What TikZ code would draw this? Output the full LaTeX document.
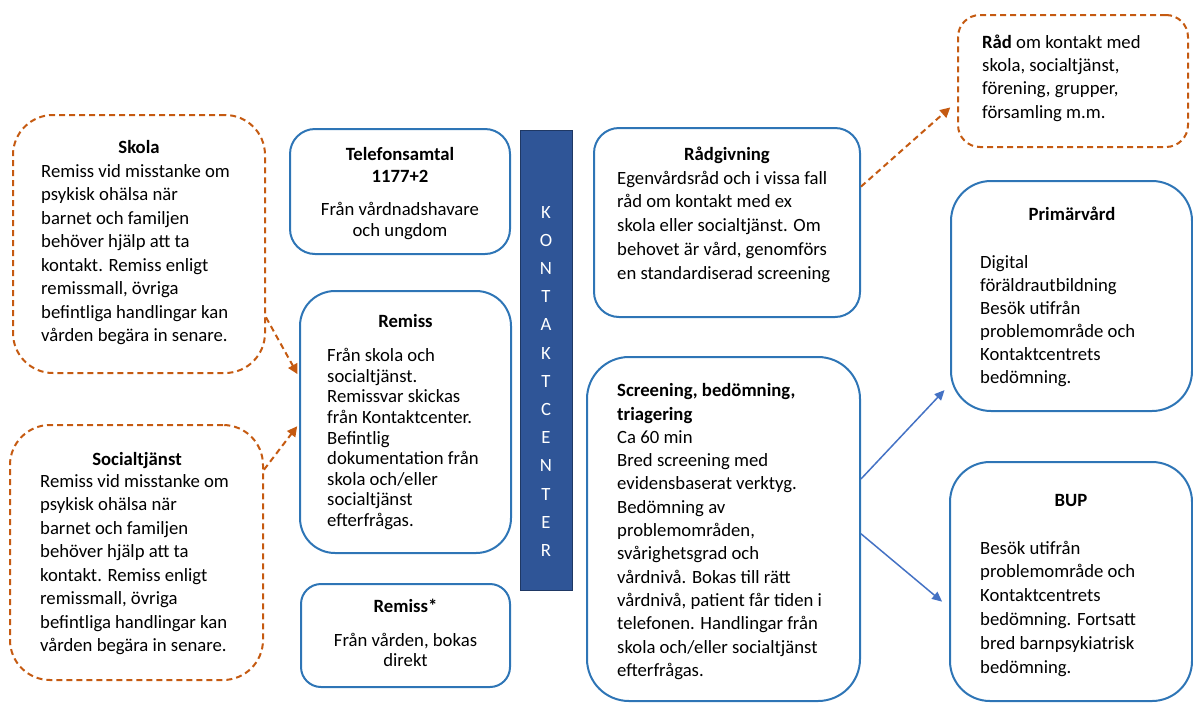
\documentclass[tikz,border=0pt]{standalone}
\usepackage{fontspec}
\setmainfont{Carlito}
\usepackage{tikz}
\usetikzlibrary{arrows.meta}
\definecolor{boxblue}{HTML}{2E75B6}
\definecolor{arrowblue}{HTML}{4472C4}
\definecolor{dashorange}{HTML}{C55A11}
\definecolor{barblue}{HTML}{2F5597}
\definecolor{bardark}{HTML}{1F3864}
\newcommand{\kcfont}{\fontsize{18.7}{23.5}\selectfont}
\newcommand{\kctight}{\fontsize{18.7}{20.6}\selectfont}
\tikzset{
  bluebox/.style={draw=boxblue, line width=2pt, rectangle, inner sep=0pt},
  orangebox/.style={draw=dashorange, line width=2pt, dash pattern=on 6pt off 4pt, rectangle, inner sep=0pt},
  head/.style={font=\kcfont\bfseries, anchor=base, inner sep=0pt, align=center},
  body/.style={font=\kcfont, align=left, anchor=base west, inner sep=0pt},
  dasharrow/.style={draw=dashorange, line width=2pt, dash pattern=on 6pt off 4pt, -{Triangle[length=10pt,width=10pt]}},
  bluearrow/.style={draw=arrowblue, line width=1.5pt, -{Triangle[length=10pt,width=9pt]}},
  barletter/.style={font=\kcfont, text=white, anchor=base, inner sep=0pt}
}
\begin{document}
\begin{tikzpicture}[x=1pt,y=-1pt]
\useasboundingbox (0,0) rectangle (1193,702);
% inflow (text nodes sit on the baseline of their last line)
\node[orangebox, rounded corners=40pt, minimum width=252pt, minimum height=258pt] (skola) at (139,244) {};
\node[head] (skolahead) at (139,153) {Skola};
\node[body] (skolabody) at (41,341.5) {Remiss vid misstanke om\\psykisk ohälsa när\\barnet och familjen\\behöver hjälp att ta\\kontakt. Remiss enligt\\remissmall, övriga\\befintliga handlingar kan\\vården begära in senare.};
\node[orangebox, rounded corners=40pt, minimum width=253pt, minimum height=255pt] (social) at (136.5,552.5) {};
\node[head] (socialhead) at (137,465) {Socialtjänst};
\node[body] (socialbody) at (40,651.5) {Remiss vid misstanke om\\psykisk ohälsa när\\barnet och familjen\\behöver hjälp att ta\\kontakt. Remiss enligt\\remissmall, övriga\\befintliga handlingar kan\\vården begära in senare.};
\node[bluebox, rounded corners=25pt, minimum width=220pt, minimum height=125pt] (telefon) at (400,191.5) {};
\node[head, font=\fontsize{18.7}{22}\selectfont\bfseries] (telefonhead) at (400,182) {Telefonsamtal\\1177+2};
\node[head, font=\fontsize{18.7}{21}\selectfont] (telefonbody) at (400,236) {Från vårdnadshavare\\och ungdom};
\node[bluebox, rounded corners=35pt, minimum width=211pt, minimum height=262pt] (remiss) at (405.5,422) {};
\node[head] (remisshead) at (405.5,327) {Remiss};
\node[body, font=\kctight] (remissbody) at (327,526.5) {Från skola och\\socialtjänst.\\Remissvar skickas\\från Kontaktcenter.\\Befintlig\\dokumentation från\\skola och/eller\\socialtjänst\\efterfrågas.};
\node[bluebox, rounded corners=20pt, minimum width=209pt, minimum height=103pt] (remissdir) at (405.5,635.5) {};
\node[head] (remissdirhead) at (405.5,612.5) {Remiss*};
\node[head, font=\fontsize{18.7}{20.5}\selectfont] (remissdirbody) at (405.5,666.5) {Från vården, bokas\\direkt};
% kontaktcenter
\node[draw=bardark, fill=barblue, line width=1pt, minimum width=52pt, minimum height=460pt, inner sep=0pt] (kc) at (546,360) {};
\foreach \ch [count=\i from 0] in {K,O,N,T,A,K,T,C,E,N,T,E,R}
  \node[barletter] (kc\i) at (546,218+28.2*\i) {\ch};
% outflow
\node[bluebox, rounded corners=25pt, minimum width=266pt, minimum height=189pt] (radgiv) at (727,222.5) {};
\node[head] (radgivhead) at (727,160) {Rådgivning};
\node[body, font=\fontsize{18.7}{23.8}\selectfont] (radgivbody) at (617,279.2) {Egenvårdsråd och i vissa fall\\råd om kontakt med ex\\skola eller socialtjänst. Om\\behovet är vård, genomförs\\en standardiserad screening};
\node[bluebox, rounded corners=42pt, minimum width=273pt, minimum height=344pt] (screen) at (723.5,529) {};
\node[body, font=\fontsize{18.7}{23.3}\selectfont] (screenbody) at (617,676.3) {\textbf{Screening, bedömning,}\\\textbf{triagering}\\Ca 60 min\\Bred screening med\\evidensbaserat verktyg.\\Bedömning av\\problemområden,\\svårighetsgrad och\\vårdnivå. Bokas till rätt\\vårdnivå, patient får tiden i\\telefonen. Handlingar från\\skola och/eller socialtjänst\\efterfrågas.};
\node[orangebox, rounded corners=22pt, minimum width=230pt, minimum height=132pt] (rad) at (1073,81) {};
\node[body, font=\fontsize{18.7}{23.3}\selectfont] (radbody) at (982,118.2) {\textbf{Råd} om kontakt med\\skola, socialtjänst,\\förening, grupper,\\församling m.m.};
\node[bluebox, rounded corners=40pt, minimum width=241pt, minimum height=230pt] (prim) at (1071.5,296) {};
\node[head] (primhead) at (1072,220) {Primärvård};
\node[body, font=\fontsize{18.7}{23}\selectfont] (primbody) at (980,383.3) {Digital\\föräldrautbildning\\Besök utifrån\\problemområde och\\Kontaktcentrets\\bedömning.};
\node[bluebox, rounded corners=40pt, minimum width=242pt, minimum height=239pt] (bup) at (1071,581.5) {};
\node[head] (buphead) at (1071,506) {BUP};
\node[body, font=\fontsize{18.7}{23.8}\selectfont] (bupbody) at (980,673) {Besök utifrån\\problemområde och\\Kontaktcentrets\\bedömning. Fortsatt\\bred barnpsykiatrisk\\bedömning.};
% connectors
\draw[dasharrow, shorten >=3pt] (skola.-30) -- (remiss.157.5);
\draw[dasharrow, shorten >=3pt] (social.33.6) -- (remiss.181.6);
\draw[dasharrow, shorten >=9pt] (radgiv.15.6) -- (rad.190.4);
\draw[bluearrow, shorten >=8pt] (screen.20.2) -- (prim.216.8);
\draw[bluearrow, shorten >=9pt] (screen.-2.5) -- (bup.192.3);
\end{tikzpicture}
\end{document}
